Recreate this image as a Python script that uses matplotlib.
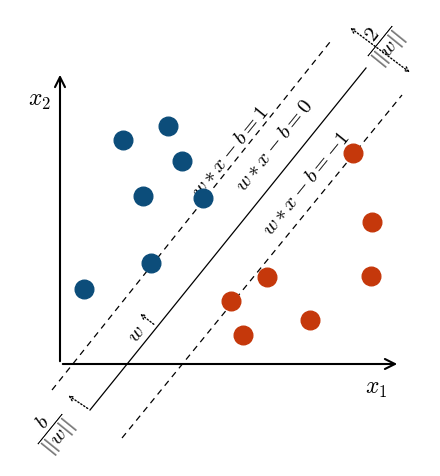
import matplotlib
matplotlib.use("Agg")
import matplotlib.pyplot as plt
import numpy as np

plt.rcParams['mathtext.fontset'] = 'cm'
plt.rcParams['font.family'] = ['DejaVu Serif']

blue_x = [24, 63, 108, 122, 83, 143, 91]
blue_y = [75, 224, 238, 203, 168, 166, 101]
red_x = [293, 312, 311, 207, 171, 250, 183]
red_y = [211, 142, 88, 87, 63, 44, 29]

fig = plt.figure(figsize=(4.4, 4.76), dpi=100)
ax = fig.add_axes([0, 0, 1, 1])
ax.set_xlim(-60, 380)
ax.set_ylim(-112, 364)
ax.axis('off')

ax.annotate('', xy=(340, 0), xytext=(0, 0), arrowprops=dict(arrowstyle='->', lw=1.5, mutation_scale=18))
ax.annotate('', xy=(0, 292), xytext=(0, 0), arrowprops=dict(arrowstyle='->', lw=1.5, mutation_scale=18))
ax.text(305, -30, '$x_1$', fontsize=17)
ax.text(-32, 258, '$x_2$', fontsize=17)

ax.plot([30, 306], [-46, 296], color='k', lw=0.9)
ax.plot([-8, 270], [-26, 322], color='k', lw=0.9, ls=(0, (5, 4)))
ax.plot([62, 342], [-74, 269], color='k', lw=0.9, ls=(0, (5, 4)))

ang = 51
ax.text(170, 212, r'$w * x - b = 1$', rotation=ang, fontsize=15, ha='center', va='center')
ax.text(214, 218, r'$w * x - b = 0$', rotation=ang, fontsize=15, ha='center', va='center')
ax.text(246, 180, r'$w * x - b = -1$', rotation=ang, fontsize=15, ha='center', va='center')

ax.annotate('', xy=(78, 52), xytext=(96, 38), arrowprops=dict(arrowstyle='->', lw=1, ls=(0, (1, 1.5)), mutation_scale=8))
ax.text(76, 30, '$w$', rotation=ang, fontsize=15, ha='center', va='center')

ax.annotate('', xy=(288, 338), xytext=(352, 290), arrowprops=dict(arrowstyle='<->', lw=1, ls=(0, (1, 1.5)), mutation_scale=8))
ax.text(322, 322, r'$\dfrac{2}{||w||}$', rotation=ang, fontsize=15, ha='center', va='center')

ax.annotate('', xy=(6, -30), xytext=(30, -46), arrowprops=dict(arrowstyle='->', lw=1, ls=(0, (1, 1.5)), mutation_scale=8))
ax.text(-8, -66, r'$\dfrac{b}{||w||}$', rotation=ang, fontsize=15, ha='center', va='center')

ax.scatter(blue_x, blue_y, s=180, color='#0c4d7a', zorder=3)
ax.scatter(red_x, red_y, s=180, color='#c5380b', zorder=3)

fig.savefig('out.png', dpi=100)
